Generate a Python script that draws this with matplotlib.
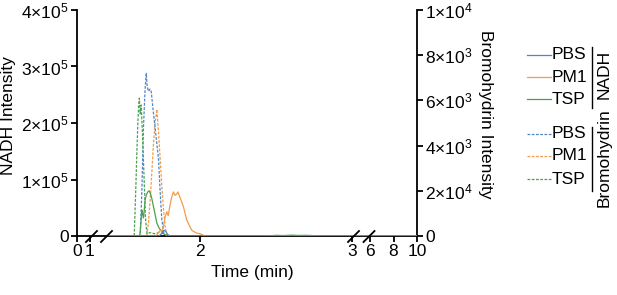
import matplotlib
matplotlib.use("Agg")
import matplotlib.pyplot as plt
from matplotlib.lines import Line2D
import numpy as np

plt.rcParams["font.family"] = ["Liberation Sans", "DejaVu Sans"]
plt.rcParams["mathtext.fontset"] = "custom"
plt.rcParams["mathtext.rm"] = "Liberation Sans"

W, H = 617, 295
BLUE = "#4f86c6"
ORANGE = "#f39c4a"
GREEN = "#4aa04f"

# NADH traces (left axis, x1e5)
nadh_tsp_t = [1.40, 1.60, 1.605, 1.612, 1.616, 1.622, 1.627, 1.632, 1.638, 1.645, 1.655,
              1.664, 1.672, 1.683, 1.693, 1.705, 1.715, 1.73, 1.748, 1.765, 1.78, 2.45,
              2.50, 2.55, 2.60, 2.65, 2.70, 2.75, 2.80, 3.0, 6.0, 10.0]
nadh_tsp_v = [0, 0, 0.05, 0.30, 0.46, 0.38, 0.32, 0.45, 0.64, 0.72, 0.78,
              0.80, 0.76, 0.65, 0.52, 0.36, 0.23, 0.14, 0.08, 0.03, 0, 0,
              0.012, 0.008, 0.015, 0.01, 0.012, 0.006, 0, 0, 0, 0]
nadh_pm1_t = [1.40, 1.71, 1.725, 1.737, 1.75, 1.76, 1.77, 1.781, 1.79, 1.80, 1.812, 1.824,
              1.835, 1.845, 1.853, 1.865, 1.89, 1.912, 1.945, 1.978, 2.00, 2.033, 3.0,
              6.0, 10.0]
nadh_pm1_v = [0, 0, 0.06, 0.10, 0.08, 0.20, 0.34, 0.43, 0.36, 0.52, 0.68, 0.78,
              0.72, 0.74, 0.78, 0.70, 0.52, 0.28, 0.10, 0.05, 0.04, 0, 0,
              0, 0]
nadh_pbs_t = [1.40, 1.73, 1.745, 1.757, 1.765, 1.775, 1.785, 1.80, 3.0, 6.0, 10.0]
nadh_pbs_v = [0, 0, 0.04, 0.09, 0.10, 0.08, 0.03, 0, 0, 0, 0]

# Bromohydrin traces (right axis, x1e3)
brom_tsp_t = [1.40, 1.566, 1.575, 1.583, 1.59, 1.595, 1.60, 1.605, 1.612, 1.62, 1.627,
              1.635, 1.64, 1.65, 1.67, 1.70, 1.73, 1.76, 1.78, 3.0, 6.0, 10.0]
brom_tsp_v = [0, 0, 1.8, 3.6, 5.0, 5.8, 6.1, 5.4, 5.8, 4.6, 3.3,
              1.8, 0.8, 0.1, 0.15, 0.1, 0.15, 0.1, 0, 0, 0, 0]
brom_pbs_t = [1.40, 1.605, 1.616, 1.627, 1.637, 1.645, 1.652, 1.66, 1.67, 1.678, 1.69,
              1.71, 1.726, 1.738, 1.748, 1.765, 3.0, 6.0, 10.0]
brom_pbs_v = [0, 0, 1.9, 4.8, 6.4, 7.2, 6.6, 6.4, 6.5, 6.4, 5.6,
              4.4, 3.4, 1.8, 0.7, 0, 0, 0, 0]
brom_pm1_t = [1.40, 1.649, 1.66, 1.671, 1.682, 1.693, 1.705, 1.715, 1.726, 1.737, 1.748,
              1.759, 1.77, 1.781, 3.0, 6.0, 10.0]
brom_pm1_v = [0, 0, 0.6, 1.6, 2.8, 4.1, 5.1, 5.6, 4.6, 3.4, 2.2,
              1.15, 0.4, 0, 0, 0, 0]

x_ticks = [0, 1, 2, 3, 6, 8, 10]
left_ticks = [0, 1e5, 2e5, 3e5, 4e5]
left_labels = ["0", r"$\mathregular{1{\times}10^{5}}$", r"$\mathregular{2{\times}10^{5}}$",
               r"$\mathregular{3{\times}10^{5}}$", r"$\mathregular{4{\times}10^{5}}$"]
right_ticks = [0, 2000, 4000, 6000, 8000, 10000]
right_labels = ["0", r"$\mathregular{2{\times}10^{4}}$", r"$\mathregular{4{\times}10^{3}}$",
                r"$\mathregular{6{\times}10^{3}}$", r"$\mathregular{8{\times}10^{3}}$",
                r"$\mathregular{1{\times}10^{4}}$"]

# broken time axis as a piecewise linear scale
XK = [0, 1, 1.4, 3, 6, 10]
UK = [0, 13, 32, 275, 293, 340]
fwd = lambda x: np.interp(x, XK, UK)
inv = lambda u: np.interp(u, UK, XK)


def fx(px):
    return px / W


def fy(py):
    return 1 - py / H


fig = plt.figure(figsize=(W / 100, H / 100), dpi=100)
ax = fig.add_axes([fx(77), fy(236), (417 - 77) / W, (236 - 10) / H])
ax.set_xscale("function", functions=(fwd, inv))
ax2 = ax.twinx()

dash = (0, (2.2, 1.2))
lw = 0.9
ax.plot(nadh_tsp_t, np.array(nadh_tsp_v) * 1e5, color=GREEN, lw=lw, zorder=3)
ax.plot(nadh_pm1_t, np.array(nadh_pm1_v) * 1e5, color=ORANGE, lw=lw, zorder=3)
ax.plot(nadh_pbs_t, np.array(nadh_pbs_v) * 1e5, color=BLUE, lw=lw, zorder=3)
ax2.plot(brom_pm1_t, np.array(brom_pm1_v) * 1e3, color=ORANGE, lw=lw, ls=dash)
ax2.plot(brom_pbs_t, np.array(brom_pbs_v) * 1e3, color=BLUE, lw=lw, ls=dash)
ax2.plot(brom_tsp_t, np.array(brom_tsp_v) * 1e3, color=GREEN, lw=lw, ls=dash)

ax.set_xlim(0, 10)
ax.set_ylim(0, 4e5)
ax2.set_ylim(0, 1e4)
ax.set_xticks(x_ticks)
ax.set_xticklabels([str(t) for t in x_ticks])
ax.set_yticks(left_ticks)
ax.set_yticklabels(left_labels)
ax2.set_yticks(right_ticks)
ax2.set_yticklabels(right_labels)

for a in (ax, ax2):
    a.spines["top"].set_visible(False)
    for s in a.spines.values():
        s.set_linewidth(1.3)
    a.tick_params(width=1.3, length=4, labelsize=12.5, pad=2)
ax.spines["right"].set_visible(False)
ax2.spines["left"].set_visible(False)
ax2.spines["bottom"].set_visible(False)
ax.set_zorder(ax2.get_zorder() + 1)
ax.patch.set_visible(False)

# break marks on time axis
for cx in [91.5, 106.5, 353.5, 369]:
    fig.add_artist(Line2D([fx(cx - 5.5), fx(cx + 5.5)], [fy(242), fy(231)],
                          color="black", lw=1.3))

fig.text(fx(9), fy(116), "NADH Intensity", rotation=90, ha="center", va="center", fontsize=12.5)
fig.text(fx(486), fy(114), "Bromohydrin Intensity", rotation=270, ha="center", va="center",
         fontsize=12.5)
fig.text(fx(252), fy(272), "Time (min)", ha="center", va="center", fontsize=12.5)

# legend
rows = [("PBS", BLUE, "-", 55), ("PM1", ORANGE, "-", 77), ("TSP", GREEN, "-", 99),
        ("PBS", BLUE, dash, 134), ("PM1", ORANGE, dash, 156), ("TSP", GREEN, dash, 179)]
for name, c, ls, py in rows:
    fig.add_artist(Line2D([fx(527), fx(551)], [fy(py), fy(py)], color=c, lw=lw, ls=ls))
    fig.text(fx(552), fy(py), name, ha="left", va="center", fontsize=12.5)
fig.add_artist(Line2D([fx(592), fx(592)], [fy(47), fy(108)], color="black", lw=1.0))
fig.add_artist(Line2D([fx(592), fx(592)], [fy(127), fy(191)], color="black", lw=1.0))
fig.text(fx(604), fy(74), "NADH", rotation=90, ha="center", va="center", fontsize=12.5)
fig.text(fx(604), fy(158), "Bromohydrin", rotation=90, ha="center", va="center", fontsize=12.5)

fig.savefig("out.png", dpi=100)
